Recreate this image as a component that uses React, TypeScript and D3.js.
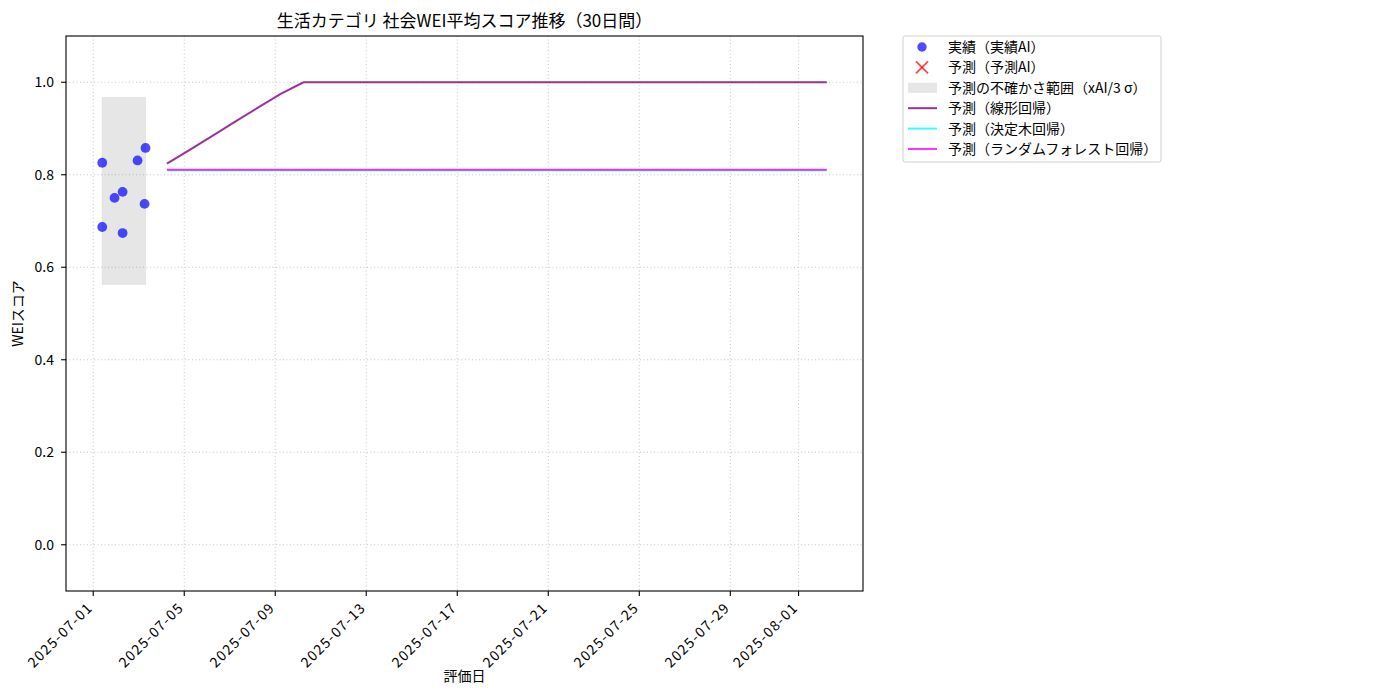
import React from "react";
import * as d3 from "d3";

const TITLE = "生活カテゴリ 社会WEI平均スコア推移（30日間）";
const X_LABEL = "評価日";
const Y_LABEL = "WEIスコア";

// actual evaluations (実績AI)
const actualDates = [
  "2025-07-01T09:30",
  "2025-07-01T09:30",
  "2025-07-01T22:30",
  "2025-07-02T07:00",
  "2025-07-02T07:00",
  "2025-07-02T22:45",
  "2025-07-03T06:10",
  "2025-07-03T07:10",
];
const actualValues = [0.826, 0.687, 0.75, 0.763, 0.674, 0.831, 0.737, 0.858];

// uncertainty band (xAI / 3σ)
const bandLower = 0.563;
const bandUpper = 0.967;

// forecast dates (30 days)
const forecastDates = [
  "2025-07-04T05:45", "2025-07-05T05:45", "2025-07-06T05:45", "2025-07-07T05:45",
  "2025-07-08T05:45", "2025-07-09T05:45", "2025-07-10T05:45", "2025-07-11T05:45",
  "2025-07-12T05:45", "2025-07-13T05:45", "2025-07-14T05:45", "2025-07-15T05:45",
  "2025-07-16T05:45", "2025-07-17T05:45", "2025-07-18T05:45", "2025-07-19T05:45",
  "2025-07-20T05:45", "2025-07-21T05:45", "2025-07-22T05:45", "2025-07-23T05:45",
  "2025-07-24T05:45", "2025-07-25T05:45", "2025-07-26T05:45", "2025-07-27T05:45",
  "2025-07-28T05:45", "2025-07-29T05:45", "2025-07-30T05:45", "2025-07-31T05:45",
  "2025-08-01T05:45", "2025-08-02T05:45",
];
const linearValues = [
  0.824, 0.854, 0.884, 0.915, 0.945, 0.975, 1.0, 1.0, 1.0, 1.0,
  1.0, 1.0, 1.0, 1.0, 1.0, 1.0, 1.0, 1.0, 1.0, 1.0,
  1.0, 1.0, 1.0, 1.0, 1.0, 1.0, 1.0, 1.0, 1.0, 1.0,
];
const treeValues = [
  0.81, 0.81, 0.81, 0.81, 0.81, 0.81, 0.81, 0.81, 0.81, 0.81,
  0.81, 0.81, 0.81, 0.81, 0.81, 0.81, 0.81, 0.81, 0.81, 0.81,
  0.81, 0.81, 0.81, 0.81, 0.81, 0.81, 0.81, 0.81, 0.81, 0.81,
];
const forestValues = [
  0.811, 0.811, 0.811, 0.811, 0.811, 0.811, 0.811, 0.811, 0.811, 0.811,
  0.811, 0.811, 0.811, 0.811, 0.811, 0.811, 0.811, 0.811, 0.811, 0.811,
  0.811, 0.811, 0.811, 0.811, 0.811, 0.811, 0.811, 0.811, 0.811, 0.811,
];

const xTickLabels = [
  "2025-07-01", "2025-07-05", "2025-07-09", "2025-07-13", "2025-07-17",
  "2025-07-21", "2025-07-25", "2025-07-29", "2025-08-01",
];
const yTicks = [0.0, 0.2, 0.4, 0.6, 0.8, 1.0];
const yDomain = [-0.1, 1.1];

const legendLabels = [
  "実績（実績AI）",
  "予測（予測AI）",
  "予測の不確かさ範囲（xAI/3 σ）",
  "予測（線形回帰）",
  "予測（決定木回帰）",
  "予測（ランダムフォレスト回帰）",
];

const FONT = "'Noto Sans CJK JP', 'DejaVu Sans', sans-serif";

export default function App() {
  const W = 1400, H = 700;
  const L = 66, R = 863, T = 36, B = 591;
  const parse = (s: string) => new Date(s);
  const aDates = actualDates.map(parse);
  const fDates = forecastDates.map(parse);
  const all = [...aDates, ...fDates];
  const x0 = d3.min(all)!.getTime();
  const x1 = d3.max(all)!.getTime();
  const pad = (x1 - x0) * 0.05;
  const x = d3.scaleTime().domain([new Date(x0 - pad), new Date(x1 + pad)]).range([L, R]);
  const y = d3.scaleLinear().domain(yDomain).range([B, T]);

  const xTicks = xTickLabels.map((s) => new Date(s + "T00:00"));
  const line = (vals: number[]) =>
    d3.line<number>().x((_, i) => x(fDates[i])).y((v) => y(v))(vals) || "";

  const bandX0 = x(d3.min(aDates)!);
  const bandX1 = x(d3.max(aDates)!);

  const legX = 903, legY = 36, legW = 258, legH = 126;
  const rowY = (i: number) => 47 + i * 20.4;

  return (
    <svg width={W} height={H} style={{ position: "absolute", left: 0, top: 0, background: "#fff" }} fontFamily={FONT}>
      <rect x={0} y={0} width={W} height={H} fill="#fff" />
      {/* grid */}
      <g stroke="#b0b0b0" strokeOpacity={0.8} strokeWidth={0.9} strokeDasharray="1,2.5">
        {xTicks.map((d, i) => (
          <line key={"gx" + i} x1={x(d)} x2={x(d)} y1={T} y2={B} />
        ))}
        {yTicks.map((v, i) => (
          <line key={"gy" + i} x1={L} x2={R} y1={y(v)} y2={y(v)} />
        ))}
      </g>
      {/* band */}
      <rect
        x={bandX0}
        y={y(bandUpper)}
        width={bandX1 - bandX0}
        height={y(bandLower) - y(bandUpper)}
        fill="gray"
        fillOpacity={0.2}
        stroke="gray"
        strokeOpacity={0.12}
        strokeWidth={1}
      />
      {/* scatter */}
      {aDates.map((d, i) => (
        <circle key={"p" + i} cx={x(d)} cy={y(actualValues[i])} r={4.9} fill="blue" fillOpacity={0.7} />
      ))}
      {/* lines */}
      <path d={line(linearValues)} fill="none" stroke="purple" strokeOpacity={0.8} strokeWidth={2} />
      <path d={line(treeValues)} fill="none" stroke="cyan" strokeOpacity={0.8} strokeWidth={2} />
      <path d={line(forestValues)} fill="none" stroke="magenta" strokeOpacity={0.8} strokeWidth={2} />
      {/* frame */}
      <rect x={L} y={T} width={R - L} height={B - T} fill="none" stroke="#000" strokeWidth={1.1} />
      {/* y axis */}
      {yTicks.map((v, i) => (
        <g key={"yt" + i}>
          <line x1={L} x2={L - 4.9} y1={y(v)} y2={y(v)} stroke="#000" strokeWidth={1.1} />
          <text x={L - 12} y={y(v)} dy="0.35em" textAnchor="end" fontSize={14} fill="#000">
            {v.toFixed(1)}
          </text>
        </g>
      ))}
      {/* x axis */}
      {xTicks.map((d, i) => (
        <g key={"xt" + i}>
          <line x1={x(d)} x2={x(d)} y1={B} y2={B + 4.9} stroke="#000" strokeWidth={1.1} />
          <text
            transform={`translate(${x(d) - 3},${B + 14}) rotate(-45)`}
            textAnchor="end"
            dy="0.35em"
            fontSize={14}
            letterSpacing={1.3}
            fill="#000"
          >
            {xTickLabels[i]}
          </text>
        </g>
      ))}
      <text x={(L + R) / 2} y={681} textAnchor="middle" fontSize={14} fill="#000">
        {X_LABEL}
      </text>
      <text transform={`translate(23,${(T + B) / 2}) rotate(-90)`} textAnchor="middle" fontSize={14} fill="#000">
        {Y_LABEL}
      </text>
      <text x={(L + R) / 2} y={27} textAnchor="middle" fontSize={17} fill="#000">
        {TITLE}
      </text>
      {/* legend */}
      <rect x={legX} y={legY} width={legW} height={legH} rx={2} fill="#fff" fillOpacity={0.8} stroke="#d0d0d0" strokeWidth={1} />
      <circle cx={922} cy={rowY(0)} r={4.7} fill="blue" fillOpacity={0.7} />
      <g stroke="red" strokeOpacity={0.7} strokeWidth={2}>
        <line x1={916} x2={928} y1={rowY(1) - 6} y2={rowY(1) + 6} />
        <line x1={916} x2={928} y1={rowY(1) + 6} y2={rowY(1) - 6} />
      </g>
      <rect x={908} y={rowY(2) - 5} width={29} height={10} fill="gray" fillOpacity={0.2} />
      <line x1={908} x2={937} y1={rowY(3)} y2={rowY(3)} stroke="purple" strokeOpacity={0.8} strokeWidth={2} />
      <line x1={908} x2={937} y1={rowY(4)} y2={rowY(4)} stroke="cyan" strokeOpacity={0.8} strokeWidth={2} />
      <line x1={908} x2={937} y1={rowY(5)} y2={rowY(5)} stroke="magenta" strokeOpacity={0.8} strokeWidth={2} />
      {legendLabels.map((s, i) => (
        <text key={"lg" + i} x={948} y={rowY(i)} dy="0.35em" fontSize={14} fill="#000">
          {s}
        </text>
      ))}
    </svg>
  );
}
